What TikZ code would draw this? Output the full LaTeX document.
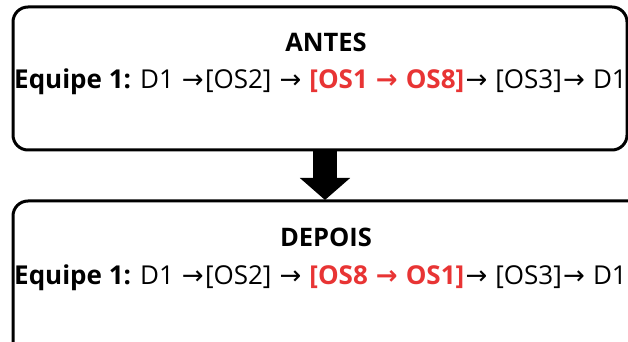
\documentclass[tikz,border=0pt]{standalone}
\usepackage{fontspec}
\setmainfont{Open Sans}
\newfontfamily\arrowfont{DejaVu Sans}
\usetikzlibrary{arrows.meta}
\definecolor{swapred}{RGB}{232,52,52}
\newcommand{\ra}{{\kern1.3pt\arrowfont\symbol{"2192}\kern1.3pt}}
\begin{document}
\begin{tikzpicture}[x=1pt,y=1pt,
  panel/.style={draw=black, line width=3pt, rounded corners=15pt, fill=white},
  title/.style={font=\bfseries\fontsize{25.5}{30}\selectfont, inner sep=0pt},
  seq/.style={font=\fontsize{26}{30}\selectfont, inner sep=0pt}]
\useasboundingbox (0,0) rectangle (628,342);
\clip (0,0) rectangle (628,342);
% upper panel
\draw[panel] (13,335) rectangle (627,192);
\coordinate (p1s) at (325,192);
% lower panel, running past the page edge
\draw[panel] (13,141) rectangle (660,-20);
\coordinate (p2n) at (325,141);
% transition arrow
\draw[line width=24pt, -{Triangle[length=22pt,width=49pt]}] (p1s) -- ([yshift=1pt]p2n);
% texts
\node[title, anchor=base] (t1) at (326,290) {ANTES};
\node[seq, anchor=base west] (s1) at (14,253) {\textbf{Equipe 1:} D1 \ra[OS2] \ra{} \textcolor{swapred}{\textbf{[OS1 \ra{} OS8]}}\ra{} [OS3]\ra{} D1};
\node[title, anchor=base] (t2) at (326,95) {DEPOIS};
\node[seq, anchor=base west] (s2) at (14,57) {\textbf{Equipe 1:} D1 \ra[OS2] \ra{} \textcolor{swapred}{\textbf{[OS8 \ra{} OS1]}}\ra{} [OS3]\ra{} D1};
\end{tikzpicture}
\end{document}
